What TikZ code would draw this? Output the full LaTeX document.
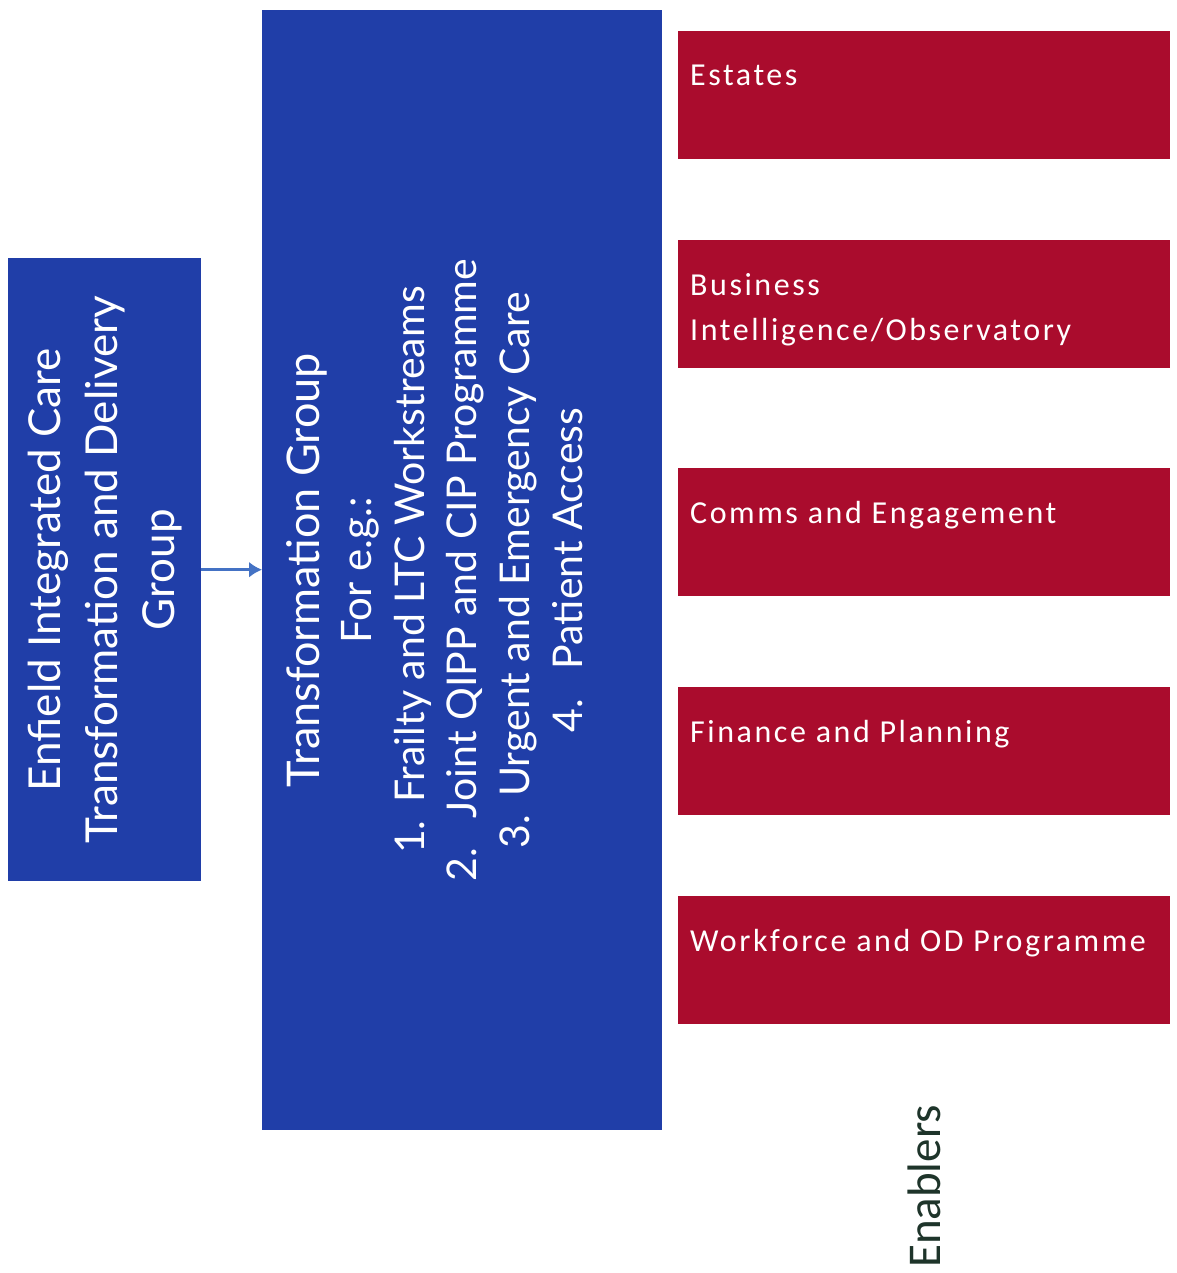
\documentclass[tikz,border=0pt]{standalone}
\usepackage{fontspec}
\setmainfont{Carlito}
\newfontfamily\gillfont{Lato}
\usetikzlibrary{arrows.meta}
\definecolor{boardblue}{RGB}{32,62,168}
\definecolor{enablerred}{RGB}{170,12,45}
\definecolor{linkblue}{RGB}{68,114,196}
\definecolor{labelgreen}{RGB}{30,52,42}

\begin{document}
\begin{tikzpicture}[x=1pt,y=-1pt]
		\tikzset{>={Latex[length=13pt,width=16pt]},
			bluebox/.style={fill=boardblue, inner sep=0pt, anchor=north west},
			redbox/.style={fill=enablerred, inner sep=0pt, anchor=north west,
				minimum width=492pt, minimum height=128pt},
			redtext/.style={white, anchor=base west, align=left, inner sep=0pt,
				font=\fontsize{32}{45}\selectfont\addfontfeature{LetterSpace=8}},
			bluetext/.style={white, rotate=90, align=center, inner sep=0pt}}
		\useasboundingbox[fill=white] (0,0) rectangle (1176,1273);

		% the two groups
		\node[bluebox, minimum width=193pt, minimum height=623pt] (icdg) at (8,258) {};
		\node[bluetext, font=\gillfont\fontsize{44}{57}\selectfont] (icdglabel) at (icdg.center)
			{Enfield Integrated Care\\Transformation and Delivery\\Group};
		\node[bluebox, minimum width=400pt, minimum height=1120pt] (tg) at (262,10) {};
		\node[bluetext, font=\gillfont\fontsize{41}{52.6}\selectfont] (tglabel) at ([xshift=-28pt]tg.center)
			{{\fontsize{45}{52.6}\selectfont Transformation Group}\\
			{\fontsize{42}{52.6}\selectfont For e.g.:}\\
			1.\hspace{18pt}Frailty and LTC Workstreams\\
			2.\hspace{30pt}Joint QIPP and CIP Programme\\
			3.\hspace{18pt}Urgent and Emergency Care\\
			4.\hspace{30pt}Patient Access};
		\draw[->, linkblue, line width=3.5pt] (icdg.east) -- (tg.west |- icdg.east);

		% enablers
		\node[redbox] (estates) at (678,31) {};
		\node[redtext] (estateslabel) at ([shift={(12pt,-55pt)}]estates.north west) {Estates};
		\node[redbox] (bi) at (678,240) {};
		\node[redtext] (bilabel) at ([shift={(12pt,-100pt)}]bi.north west) {Business\\Intelligence/Observatory};
		\node[redbox] (comms) at (678,468) {};
		\node[redtext] (commslabel) at ([shift={(12pt,-55pt)}]comms.north west) {Comms and Engagement};
		\node[redbox] (finance) at (678,687) {};
		\node[redtext] (financelabel) at ([shift={(12pt,-55pt)}]finance.north west) {Finance and Planning};
		\node[redbox] (workforce) at (678,896) {};
		\node[redtext] (workforcelabel) at ([shift={(12pt,-55pt)}]workforce.north west) {Workforce and OD Programme};

		\node[rotate=90, anchor=base west, inner sep=0pt, labelgreen, font=\fontsize{47}{50}\selectfont] (enablers) at (940,1268) {Enablers};
	\end{tikzpicture}
\end{document}
